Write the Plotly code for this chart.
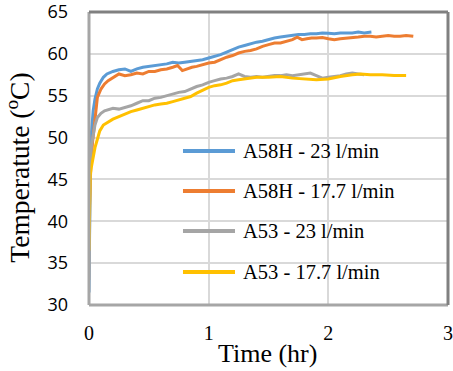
import plotly.graph_objects as go

series_names = ["A58H - 23 l/min", "A58H - 17.7 l/min", "A53 - 23 l/min", "A53 - 17.7 l/min"]
series_colors = ["#5B9BD5", "#ED7D31", "#A5A5A5", "#FFC000"]

t_a58h_23 = [0, 0.003, 0.01, 0.02, 0.035, 0.05, 0.07, 0.09, 0.12, 0.15, 0.2, 0.25, 0.3, 0.35, 0.4, 0.45,
             0.5, 0.55, 0.6, 0.65, 0.7, 0.75, 0.8, 0.85, 0.9, 0.95, 1.0, 1.05, 1.1, 1.15, 1.2, 1.25, 1.3,
             1.35, 1.4, 1.45, 1.5, 1.55, 1.6, 1.65, 1.7, 1.75, 1.8, 1.85, 1.9, 1.95, 2.0, 2.05, 2.1, 2.15,
             2.2, 2.25, 2.3, 2.36]
T_a58h_23 = [31.5, 38, 46, 50.5, 53.2, 54.6, 55.8, 56.5, 57.2, 57.6, 57.9, 58.1, 58.2, 57.9, 58.2, 58.4,
             58.5, 58.6, 58.7, 58.8, 59.0, 58.9, 59.0, 59.1, 59.2, 59.3, 59.5, 59.7, 59.9, 60.2, 60.5, 60.8,
             61.0, 61.2, 61.4, 61.5, 61.7, 61.9, 62.0, 62.1, 62.2, 62.3, 62.3, 62.4, 62.4, 62.5, 62.45, 62.4,
             62.5, 62.5, 62.5, 62.6, 62.5, 62.6]

t_a58h_177 = [0, 0.005, 0.015, 0.03, 0.05, 0.07, 0.1, 0.13, 0.16, 0.2, 0.25, 0.3, 0.35, 0.4, 0.45, 0.5,
              0.55, 0.6, 0.65, 0.7, 0.74, 0.78, 0.82, 0.86, 0.9, 0.95, 1.0, 1.05, 1.1, 1.15, 1.2, 1.25,
              1.3, 1.35, 1.4, 1.45, 1.5, 1.55, 1.6, 1.65, 1.7, 1.74, 1.78, 1.82, 1.86, 1.9, 1.95, 2.0,
              2.05, 2.1, 2.15, 2.2, 2.25, 2.3, 2.35, 2.4, 2.45, 2.5, 2.55, 2.6, 2.65, 2.71]
T_a58h_177 = [40, 43.5, 46.5, 49.5, 52.5, 54.8, 55.8, 56.4, 56.8, 57.2, 57.6, 57.4, 57.5, 57.7, 57.6, 57.9,
              57.9, 58.1, 58.2, 58.4, 58.6, 58.0, 58.2, 58.4, 58.5, 58.7, 58.9, 59.0, 59.3, 59.6, 59.8, 60.1,
              60.3, 60.4, 60.6, 60.9, 61.1, 61.3, 61.3, 61.5, 61.7, 62.0, 61.7, 61.8, 61.9, 61.9, 61.95, 61.8,
              61.7, 61.8, 61.85, 61.9, 62.0, 62.1, 62.1, 62.0, 62.1, 62.2, 62.1, 62.1, 62.2, 62.1]

t_a53_23 = [0, 0.002, 0.005, 0.01, 0.02, 0.035, 0.05, 0.07, 0.1, 0.13, 0.17, 0.2, 0.25, 0.3, 0.35, 0.4,
            0.45, 0.5, 0.55, 0.6, 0.65, 0.7, 0.75, 0.8, 0.85, 0.9, 0.95, 1.0, 1.05, 1.1, 1.15, 1.2, 1.25,
            1.3, 1.35, 1.4, 1.45, 1.5, 1.55, 1.6, 1.65, 1.7, 1.75, 1.8, 1.85, 1.9, 1.95, 2.0, 2.05, 2.1,
            2.15, 2.2, 2.25, 2.3]
T_a53_23 = [33, 37, 41, 46, 49, 50.5, 51.5, 52.4, 52.9, 53.2, 53.4, 53.5, 53.4, 53.6, 53.8, 54.1,
            54.4, 54.4, 54.7, 54.8, 55.0, 55.2, 55.4, 55.5, 55.8, 56.1, 56.3, 56.6, 56.8, 57.0, 57.1, 57.3,
            57.6, 57.3, 57.2, 57.3, 57.2, 57.3, 57.4, 57.4, 57.5, 57.4, 57.5, 57.6, 57.7, 57.4, 57.1, 57.2,
            57.3, 57.4, 57.6, 57.7, 57.6, 57.5]

t_a53_177 = [0, 0.002, 0.005, 0.01, 0.02, 0.035, 0.05, 0.07, 0.09, 0.12, 0.15, 0.2, 0.25, 0.3, 0.35, 0.4,
             0.45, 0.5, 0.55, 0.6, 0.65, 0.7, 0.75, 0.8, 0.85, 0.9, 0.95, 1.0, 1.05, 1.1, 1.15, 1.2, 1.25,
             1.3, 1.35, 1.4, 1.5, 1.6, 1.7, 1.8, 1.9, 2.0, 2.1, 2.2, 2.27, 2.35, 2.45, 2.55, 2.65]
T_a53_177 = [36.5, 40, 44.5, 45.5, 46.5, 47.8, 48.8, 49.8, 50.8, 51.5, 51.8, 52.2, 52.5, 52.8, 53.1, 53.3,
             53.5, 53.7, 53.9, 54.0, 54.1, 54.3, 54.5, 54.7, 54.9, 55.3, 55.7, 56.0, 56.2, 56.3, 56.5, 56.8,
             56.9, 57.0, 57.1, 57.2, 57.2, 57.3, 57.1, 57.0, 56.9, 57.0, 57.3, 57.5, 57.6, 57.5, 57.5, 57.4,
             57.4]

x_ticks = [0, 1, 2, 3]
y_ticks = [30, 35, 40, 45, 50, 55, 60, 65]
x_title = "Time (hr)"
y_title = "Temperatute (<sup>o</sup>C)"

all_t = [t_a58h_23, t_a58h_177, t_a53_23, t_a53_177]
all_T = [T_a58h_23, T_a58h_177, T_a53_23, T_a53_177]

fig = go.Figure()
for name, color, tt, TT in zip(series_names, series_colors, all_t, all_T):
    fig.add_trace(go.Scatter(x=tt, y=TT, mode="lines", name=name,
                             line=dict(color=color, width=3), showlegend=False))

serif = "Liberation Serif, Times New Roman, serif"

shapes = []
annotations = []
# manual legend
legend_y = [0.5256, 0.389, 0.2526, 0.1126]
for name, color, ly in zip(series_names, series_colors, legend_y):
    shapes.append(dict(type="line", xref="paper", yref="paper", x0=0.2618, x1=0.4067, y0=ly, y1=ly,
                       line=dict(color=color, width=4)))
    annotations.append(dict(text=name, xref="paper", yref="paper", x=0.4234, y=ly, xanchor="left",
                            yanchor="middle", showarrow=False, font=dict(family=serif, size=20.5, color="#000")))

# frame
shapes += [
    dict(type="line", xref="paper", yref="paper", x0=0, x1=0, y0=0, y1=1, line=dict(color="#A6A6A6", width=3)),
    dict(type="line", xref="paper", yref="paper", x0=0, x1=1, y0=0, y1=0, line=dict(color="#A6A6A6", width=3)),
    dict(type="line", xref="paper", yref="paper", x0=0, x1=1, y0=1, y1=1, line=dict(color="#808080", width=3)),
    dict(type="line", xref="paper", yref="paper", x0=1, x1=1, y0=0, y1=1, line=dict(color="#808080", width=3)),
]

annotations.append(dict(text=x_title, xref="paper", yref="paper", x=0.4986, y=-0.167, xanchor="center",
                        yanchor="middle", showarrow=False, font=dict(family=serif, size=26, color="#000")))
annotations.append(dict(text=y_title, xref="paper", yref="paper", x=-0.196, y=0.4676, xanchor="center",
                        yanchor="middle", textangle=-90, showarrow=False,
                        font=dict(family=serif, size=27.5, color="#000")))

fig.update_layout(
    width=453, height=371,
    margin=dict(l=89, r=5, t=12, b=66, autoexpand=False),
    paper_bgcolor="white", plot_bgcolor="white",
    shapes=shapes, annotations=annotations,
    xaxis=dict(range=[0, 3], tickvals=x_ticks, showgrid=True, gridcolor="#D9D9D9", gridwidth=1.5,
               zeroline=False, showline=False, ticks="", ticklabelstandoff=14, automargin=False,
               ticklabeloverflow="allow",
               tickfont=dict(family=serif, size=20, color="#000")),
    yaxis=dict(range=[30, 65], tickvals=y_ticks, showgrid=True, gridcolor="#D9D9D9", gridwidth=1.5,
               zeroline=False, showline=False, ticks="", ticklabelstandoff=20, automargin=False,
               ticklabeloverflow="allow",
               tickfont=dict(family="Open Sans, sans-serif", size=18, color="#000")),
)

# remove the default 8px page margin so the figure fills the window exactly; hide the modebar
fig.write_html("out.html", config={"displayModeBar": False},
               post_script="document.body.style.margin='0';document.body.style.overflow='hidden';")
